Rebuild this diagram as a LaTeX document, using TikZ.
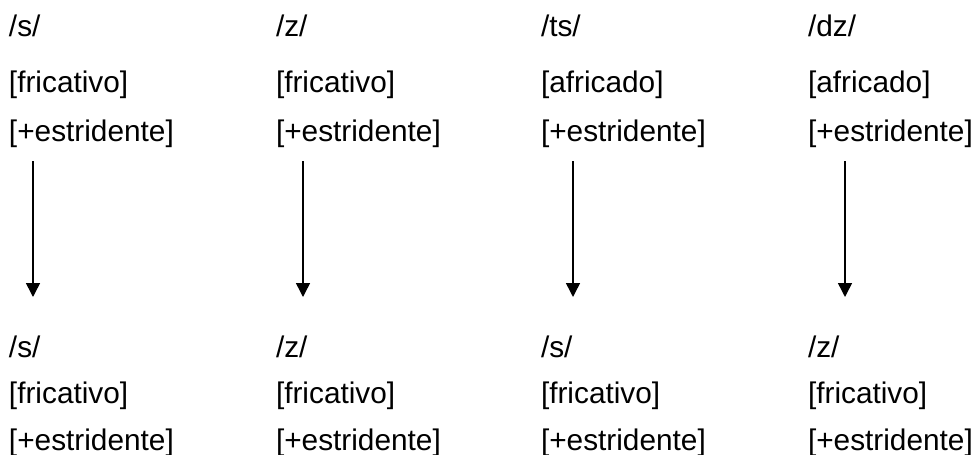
\documentclass[tikz,border=0pt]{standalone}
\usepackage{fontspec}
\setmainfont{Liberation Sans}
\usetikzlibrary{arrows.meta}
\begin{document}
\begin{tikzpicture}[x=1pt,y=-1pt,
  lbl/.style={anchor=base west,inner sep=0pt,outer sep=0pt,font=\fontsize{29.8}{32}\selectfont},
  arr/.style={line width=1.5pt,-{Triangle[length=14pt,width=14pt]}}]
\useasboundingbox (0,0) rectangle (980,455);
% columns
\foreach \i/\x/\ax/\pa/\fa/\pb in {1/9/33/s/fricativo/s,2/276/303/z/fricativo/z,3/541/573/ts/africado/s,4/808/845/dz/africado/z}{
  \node[lbl] (t\i a) at (\x,36) {/\pa/};
  \node[lbl] (t\i b) at (\x,92) {[\fa]};
  \node[lbl] (t\i c) at (\x,141) {[+estridente]};
  \node[lbl] (b\i a) at (\x,357) {/\pb/};
  \node[lbl] (b\i b) at (\x,403) {[fricativo]};
  \node[lbl] (b\i c) at (\x,450) {[+estridente]};
  \coordinate (s\i) at (\ax,161);
  \coordinate (e\i) at (\ax,297);
  \draw[arr] (s\i) -- (e\i);
}
\end{tikzpicture}
\end{document}
